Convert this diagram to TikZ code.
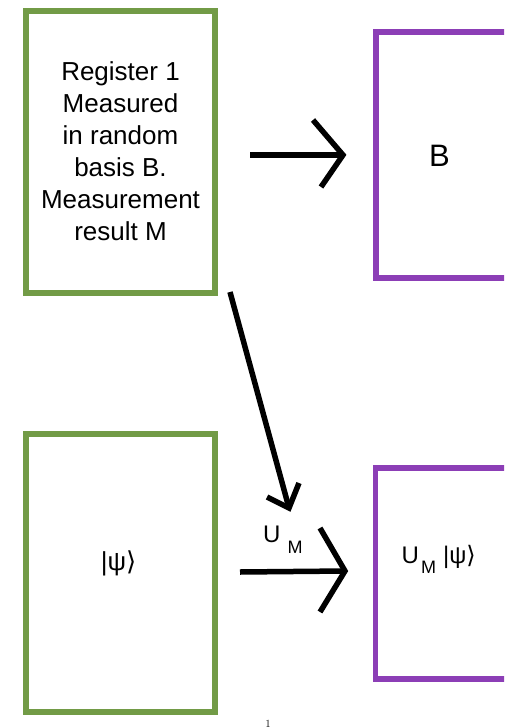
\documentclass[tikz,border=0pt]{standalone}
\usepackage{fontspec}
\newfontfamily\hv{Liberation Sans}
\newfontfamily\dvs{DejaVu Sans}
\definecolor{boxgreen}{RGB}{114,155,70}
\definecolor{boxpurple}{RGB}{140,62,182}
\tikzset{
  greenbox/.style={draw=boxgreen, line width=6pt, minimum width=189pt, minimum height=#1, inner sep=0pt},
  purplebox/.style={draw=boxpurple, line width=5.5pt, minimum width=240pt, minimum height=#1, inner sep=0pt},
  shaft/.style={line width=5.5pt},
  arms/.style={line width=5.5pt, line join=miter},
  bigtext/.style={font=\hv\fontsize{26}{32}\selectfont, align=center, inner sep=0pt},
}
\begin{document}
\begin{tikzpicture}[x=1pt,y=-1pt]
\clip (0,0) rectangle (504,728);
% boxes
\node[greenbox=282pt, bigtext] (reg1) at (120.5,151.5) {Register 1\\Measured\\in random\\basis B.\\Measurement\\result M};
\node[purplebox=246pt] (bbox) at (496,155) {};
\node[font=\hv\fontsize{31}{31}\selectfont, inner sep=0pt] (btext) at (439.5,156) {B};
\node[greenbox=278pt] (reg2) at (120.5,573) {};
\node[anchor=base, inner sep=0pt, font=\hv\fontsize{26}{26}\selectfont] (psi) at (118.5,570) {|ψ{\dvs ⟩}};
\node[purplebox=211pt] (outbox) at (495.5,573.5) {};
\node[anchor=base west, inner sep=0pt, font=\hv\fontsize{24}{24}\selectfont] (umpsi) at (401.5,563) {U\hspace{2pt}\raisebox{-10pt}{\fontsize{18}{18}\selectfont M}\hspace{7pt}|ψ{\dvs ⟩}};
% arrow label
\node[anchor=base west, inner sep=0pt, font=\hv\fontsize{24}{24}\selectfont] (um) at (263,542) {U\hspace{7pt}\raisebox{-11pt}{\fontsize{18}{18}\selectfont M}};
% arrow coordinates
\coordinate (a1s) at (250,155);
\coordinate (a1t) at (343,155);
\coordinate (a1u) at (313,120);
\coordinate (a1d) at (321,187);
\coordinate (a2s) at (230,292);
\coordinate (a2t) at (289,508);
\coordinate (a2l) at (267,497);
\coordinate (a2r) at (299,483);
\coordinate (a3s) at (240,572);
\coordinate (a3t) at (345,571);
\coordinate (a3u) at (320,528);
\coordinate (a3d) at (320,612);
% arrows
\draw[shaft] (a1s) -- (a1t);
\draw[arms] (a1u) -- (a1t) -- (a1d);
\draw[shaft] (a2s) -- (a2t);
\draw[arms] (a2l) -- (a2t) -- (a2r);
\draw[shaft] (a3s) -- (a3t);
\draw[arms] (a3u) -- (a3t) -- (a3d);
% page number
\node[anchor=base, inner sep=0pt, font=\fontsize{11}{11}\selectfont] (pg) at (268,727) {1};
\end{tikzpicture}
\end{document}
